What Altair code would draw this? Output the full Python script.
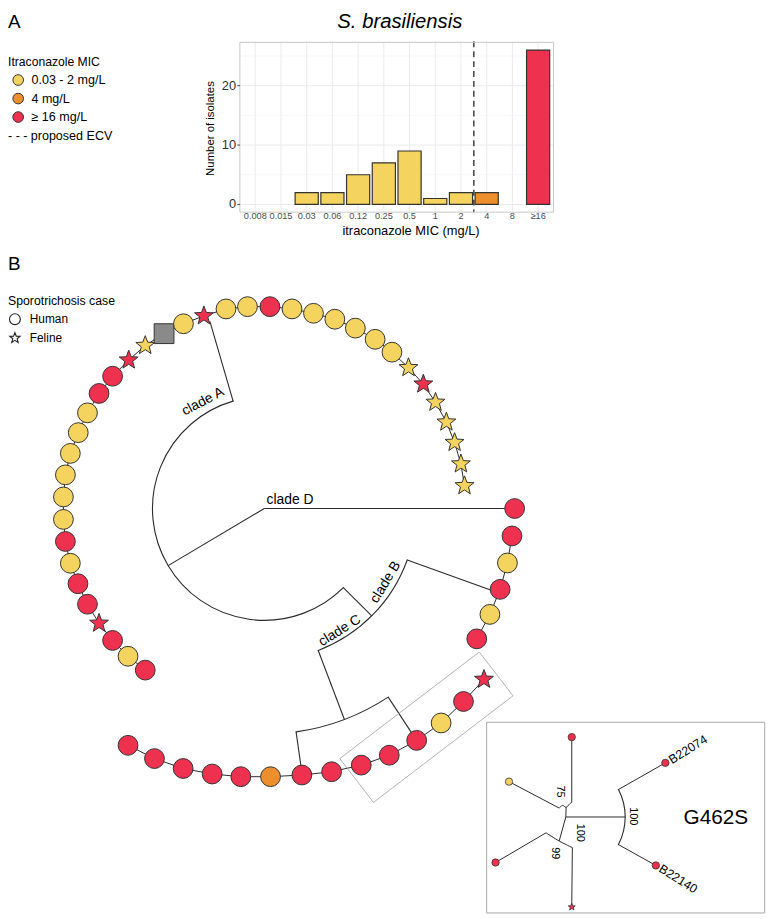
import altair as alt
import numpy as np
import pandas as pd

FONT = "Liberation Sans"
W, H = 766, 911
INK = "#2b2b2b"

# ---------------- Panel A : MIC distribution ----------------
mic_bins = ["0.008", "0.015", "0.03", "0.06", "0.12", "0.25", "0.5", "1", "2", "4", "8", "≥16"]
mic_counts = [0, 0, 2, 2, 5, 7, 9, 1, 2, 2, 0, 26]
mic_class = ["low"] * 9 + ["mid", "mid", "high"]
ecv_bin = ["4"]            # proposed ECV drawn at the lower edge of the 4 mg/L bin
y_major = [0, 10, 20]
y_minor = [5, 15, 25]

mic_domain = ["low", "mid", "high", "none"]
mic_colors = ["#F4D35E", "#EE8F2E", "#EF3150", "#8A8A8A"]
legend_mic_cls = ["low", "mid", "high"]
legend_mic_lab = ["0.03 - 2 mg/L", "4 mg/L", "≥ 16 mg/L"]

# ---------------- Panel B : circular tree (layout units) ----------------
cladeA_x = [-120.3, -137.7, -153.3, -167, -178.7, -188.3, -196, -201, -203, -203, -201, -196, -188,
            -178.7, -167, -153.3, -137, -120.3, -101.3, -81.7, -61, -38.7, -17, 5.7, 28, 49.7, 71.3,
            92, 112, 129, 145.7, 160.7, 173, 184, 192.3, 198.7, 202.3]
cladeA_y = [-163.3, -149.3, -133.3, -116, -96.7, -76, -55.3, -33.3, -11, 11.7, 34, 55.7, 76.7, 96.7,
            116.3, 133.7, 150, 164.7, 176.7, 186.7, 194.7, 201.7, 204, 204, 201.7, 197.3, 191.3,
            182.3, 171, 158, 142.3, 125.7, 107.3, 87.3, 66.7, 45, 23]
cladeA_mic = list("RYRRRRYRYYYYYYRRRYGYRYYRYYYYYYYRYYYYY")
cladeA_host = list("HHHFHHHHHHHHHHHHFFNHFHHHHHHHHHFFFFFFF")

cladeD_x, cladeD_y, cladeD_mic, cladeD_host = [253], [0], list("R"), list("H")

cladeB_x = [250.3, 245.7, 238.3, 228, 214.7]
cladeB_y = [-27.7, -55, -81.7, -107, -131.7]
cladeB_mic = list("RYRYR")
cladeB_host = list("HHHHH")

cladeC_x = [222, 201.3, 178.7, 154, 126.3, 98, 68, 38, 6.3, -23.7, -52.7, -82, -111, -137.7]
cladeC_y = [-172.7, -195, -216.7, -234.3, -249.3, -259.3, -266, -269.3, -271, -271, -268.3,
            -262.7, -252.7, -239.3]
cladeC_mic = list("RRYRRRRROR RRRR".replace(" ", ""))
cladeC_host = list("FHHHHHHHHHHHHH")

# internal branches: radial (math angle deg, r0, r1) and arcs (radius, from, to ccw)
br_angle = [0, 210.7, 106.2, -45, -19.8, -69.2, -81.9, -56.7]
br_r0 = [0, 0, 113, 113, 153.5, 153.5, 228, 228]
br_r1 = [253, 113, 197, 153.5, 252, 228, 272, 280]
arc_r = [113, 153.5, 228]
arc_from = [106.2, -69.2, -81.9]
arc_to = [315, -19.8, -56.7]

clade_lab = ["clade A", "clade D", "clade B", "clade C"]
clade_lab_x = [-62, 2.3, 122.5, 76.3]
clade_lab_y = [108, 8.3, -74.5, -123.5]
clade_lab_ang = [332, 0, 301, 328]
clade_lab_align = ["center", "left", "center", "center"]

# box around the G462S clade
gbox_x = [217.3, 251.3, 110.3, 76.3, 217.3]
gbox_y = [-145, -189.3, -297, -252.7, -145]

# ---------------- Inset tree (G462S) ----------------
ins_center = (304.7, -311.7)
ins_box = (224.7, 505.7, -216, -408.7)
ins_x = [310.7, 247.3, 233.7, 310.7, 405.3, 395.7]
ins_y = [-231, -276, -357.7, -402.7, -257, -360.7]
ins_mic = list("RYRRRR")
ins_host = list("HHHFHH")
ins_seg = [  # x1, y1, x2, y2
    (310.7, -231, 310.7, -297), (247.3, -276, 298, -302.7), (304.7, -311.7, 364.7, -311.7),
    (304.7, -311.7, 298, -336), (233.7, -357.7, 284.7, -327.7), (311.3, -342.7, 310.7, -402.7),
    (357.3, -284.3, 405.3, -257), (357.3, -339.3, 395.7, -360.7), (304.7, -311.7, 305, -302)]
ins_curve = {
    "c99": [(284.7, -327.7), (298, -336), (311.3, -342.7)],
    "c75": [(298, -302.7), (301.5, -300), (305, -302), (308.5, -298.5), (310.7, -297)],
}
ins_arc = (60, -27.5, 27.5)
ins_num = ["75", "100", "99", "100"]
ins_num_x = [299, 319, 293.7, 372.3]
ins_num_y = [-286, -327.7, -348.3, -311]
ins_tip_lab = ["B22074", "B22140"]
ins_tip_lab_x = [410, 400]
ins_tip_lab_y = [-255, -363]
ins_tip_lab_ang = [328, 32]

host_domain = ["Human", "Feline", "Unknown"]
host_legend = ["Human", "Feline"]

# ====================================================================
STAR = ("M0,-1L0.247,-0.34L0.951,-0.309L0.399,0.13L0.588,0.809L0,0.42L-0.588,0.809"
        "L-0.399,0.13L-0.951,-0.309L-0.247,-0.34Z")
code_mic = {"R": "high", "Y": "low", "O": "mid", "G": "none"}
code_host = {"H": "Human", "F": "Feline", "N": "Unknown"}

color_scale = alt.Scale(domain=mic_domain, range=mic_colors)
shape_scale = alt.Scale(domain=host_domain, range=["circle", STAR, "square"])

# ---------- histogram group ----------
X0, X1, YT, YB = 234.3, 551.3, 29.9, 201.5
xh = alt.Scale(domain=mic_bins, range=[X0, X1], paddingInner=0, paddingOuter=0.1)
yh = alt.Scale(domain=[-1.3, 27.3], range=[YB, YT], nice=False, zero=False)
hist = pd.DataFrame({"bin": mic_bins, "n": mic_counts, "cls": mic_class})
XH = alt.X("bin:N", scale=xh, axis=None)

vgrid = alt.Chart(hist).mark_rule(stroke="#ebebeb", strokeWidth=1).encode(
    x=XH, y=alt.value(YT), y2=alt.value(YB))
hminor = alt.Chart(pd.DataFrame({"v": y_minor})).mark_rule(stroke="#f3f3f3", strokeWidth=0.7).encode(
    y=alt.Y("v:Q", scale=yh, axis=None), x=alt.value(X0), x2=alt.value(X1))
hmajor = alt.Chart(pd.DataFrame({"v": y_major})).mark_rule(stroke="#ebebeb", strokeWidth=1).encode(
    y=alt.Y("v:Q", scale=yh, axis=None), x=alt.value(X0), x2=alt.value(X1))
bars = alt.Chart(hist).transform_filter("datum.n > 0").mark_bar(
    stroke="#333333", strokeWidth=1.2, width=alt.RelativeBandSize(0.9)).encode(
    x=XH, y=alt.Y("n:Q", scale=yh, axis=None), y2=alt.datum(0),
    fill=alt.Fill("cls:N", scale=color_scale, legend=None))
ecv = alt.Chart(pd.DataFrame({"bin": ecv_bin})).mark_rule(
    stroke="#333333", strokeWidth=1.4, strokeDash=[6, 4]).encode(
    x=alt.X("bin:N", scale=xh, axis=None, bandPosition=0), y=alt.value(YT - 1), y2=alt.value(YB))
frame = alt.Chart(pd.DataFrame({"k": [0]})).mark_rect(
    fillOpacity=0, stroke="#c8c8c8", strokeWidth=1).encode(
    x=alt.value(X0), x2=alt.value(X1), y=alt.value(YT), y2=alt.value(YB))
xlab = alt.Chart(hist).mark_text(fontSize=9.3, color="#4d4d4d", font=FONT, baseline="middle").encode(
    x=XH, y=alt.value(205.3), text="bin:N")
ylab = alt.Chart(pd.DataFrame({"v": y_major})).mark_text(
    align="right", baseline="middle", fontSize=13, color="#333333", font=FONT).encode(
    y=alt.Y("v:Q", scale=yh, axis=None), x=alt.value(230.5), text="v:Q")
ytick = alt.Chart(pd.DataFrame({"v": y_major})).mark_rule(stroke="#333333", strokeWidth=1).encode(
    y=alt.Y("v:Q", scale=yh, axis=None), x=alt.value(231.8), x2=alt.value(X0))


def label(txt, x, y, size, **kw):
    return alt.Chart(pd.DataFrame({"t": [txt]})).mark_text(
        fontSize=size, font=FONT, color="black", **kw).encode(
        x=alt.value(x), y=alt.value(y), text="t:N")


ytitle = label("Number of isolates", 204.7, 117, 11.5, angle=270, baseline="middle")
xtitle = label("itraconazole MIC (mg/L)", 407.3, 220.3, 13, baseline="middle")
title = label("S. brasiliensis", 396, 15, 20.5, fontStyle="italic", baseline="alphabetic")

hist_group = alt.layer(vgrid, hminor, hmajor, bars, ecv, frame, xlab, ylab, ytick,
                       ytitle, xtitle, title)

# ---------- tree group ----------
xt = alt.Scale(domain=[-259, 507], nice=False, zero=False)
yt = alt.Scale(domain=[-410, 501], nice=False, zero=False)


def PX(f):
    return alt.X(f, scale=xt, axis=None)


def PY(f):
    return alt.Y(f, scale=yt, axis=None)


tips = []
for name, xs, ys, ms, hs in [("A", cladeA_x, cladeA_y, cladeA_mic, cladeA_host),
                             ("D", cladeD_x, cladeD_y, cladeD_mic, cladeD_host),
                             ("B", cladeB_x, cladeB_y, cladeB_mic, cladeB_host),
                             ("C", cladeC_x, cladeC_y, cladeC_mic, cladeC_host)]:
    for i, (x, y, m, h) in enumerate(zip(xs, ys, ms, hs)):
        tips.append({"clade": name, "i": i, "x": x, "y": y,
                     "mic": code_mic[m], "host": code_host[h]})
tips = pd.DataFrame(tips)

a = np.radians(br_angle)
branches = pd.DataFrame({
    "x1": np.array(br_r0) * np.cos(a), "y1": np.array(br_r0) * np.sin(a),
    "x2": np.array(br_r1) * np.cos(a), "y2": np.array(br_r1) * np.sin(a)})


def arc_frame(cx, cy, rs, froms, tos):
    t1 = 90 - np.array(tos, dtype=float)
    t2 = 90 - np.array(froms, dtype=float)
    shift = np.where(t1 < 0, 360, 0)
    return pd.DataFrame({"cx": cx, "cy": cy, "r": rs, "r2": np.array(rs) - 0.01,
                         "t1": np.radians(t1 + shift), "t2": np.radians(t2 + shift)})


arcs = pd.concat([arc_frame([0.0] * 3, [0.0] * 3, arc_r, arc_from, arc_to),
                  arc_frame([ins_center[0]], [ins_center[1]], [ins_arc[0]], [ins_arc[1]],
                            [ins_arc[2]])], ignore_index=True)

rules = alt.Chart(branches).mark_rule(stroke=INK, strokeWidth=1.1).encode(
    x=PX("x1:Q"), y=PY("y1:Q"), x2="x2:Q", y2="y2:Q")
arcs_l = alt.Chart(arcs).mark_arc(fillOpacity=0, stroke=INK, strokeWidth=1.1).encode(
    x=PX("cx:Q"), y=PY("cy:Q"),
    theta=alt.Theta("t1:Q", scale=None), theta2="t2:Q",
    radius=alt.Radius("r:Q", scale=None), radius2="r2:Q")
chains = alt.Chart(tips[tips.clade != "D"]).mark_line(stroke=INK, strokeWidth=1).encode(
    x=PX("x:Q"), y=PY("y:Q"), detail="clade:N", order="i:Q")
gbox = alt.Chart(pd.DataFrame({"x": gbox_x, "y": gbox_y, "i": range(len(gbox_x))})).mark_line(
    stroke="#9e9e9e", strokeWidth=0.8).encode(x=PX("x:Q"), y=PY("y:Q"), order="i:Q")
ibox = alt.Chart(pd.DataFrame({"x1": [ins_box[0]], "x2": [ins_box[1]], "y1": [ins_box[2]],
                               "y2": [ins_box[3]]})).mark_rect(
    fillOpacity=0, stroke="#a8a8a8", strokeWidth=1).encode(
    x=PX("x1:Q"), x2="x2:Q", y=PY("y1:Q"), y2="y2:Q")
iseg = alt.Chart(pd.DataFrame(ins_seg, columns=["x1", "y1", "x2", "y2"])).mark_rule(
    stroke=INK, strokeWidth=1).encode(x=PX("x1:Q"), y=PY("y1:Q"), x2="x2:Q", y2="y2:Q")
icurve = alt.Chart(pd.DataFrame([{"c": k, "i": j, "x": p[0], "y": p[1]}
                                 for k, pts in ins_curve.items() for j, p in enumerate(pts)])
                   ).mark_line(stroke=INK, strokeWidth=1, interpolate="cardinal").encode(
    x=PX("x:Q"), y=PY("y:Q"), detail="c:N", order="i:Q")

tip_pts = alt.Chart(tips).mark_point(
    filled=True, size=400, stroke="#333333", strokeWidth=1, opacity=1, fillOpacity=1).encode(
    x=PX("x:Q"), y=PY("y:Q"),
    fill=alt.Fill("mic:N", scale=color_scale, legend=None),
    shape=alt.Shape("host:N", scale=shape_scale, legend=None))
ins_tips = pd.DataFrame({"x": ins_x, "y": ins_y, "mic": [code_mic[m] for m in ins_mic],
                         "host": [code_host[h] for h in ins_host]})
ins_pts = alt.Chart(ins_tips).mark_point(
    filled=True, size=55, stroke="#333333", strokeWidth=0.8, opacity=1, fillOpacity=1).encode(
    x=PX("x:Q"), y=PY("y:Q"),
    fill=alt.Fill("mic:N", scale=color_scale, legend=None),
    shape=alt.Shape("host:N", scale=shape_scale, legend=None))

clade_df = pd.DataFrame({"t": clade_lab, "x": clade_lab_x, "y": clade_lab_y,
                         "ang": clade_lab_ang, "al": clade_lab_align})
clade_c = alt.Chart(clade_df[clade_df.al == "center"]).mark_text(
    fontSize=14, font=FONT, color="black", baseline="middle", align="center").encode(
    x=PX("x:Q"), y=PY("y:Q"), text="t:N", angle=alt.Angle("ang:Q", scale=None))
clade_l = alt.Chart(clade_df[clade_df.al == "left"]).mark_text(
    fontSize=14, font=FONT, color="black", baseline="middle", align="left").encode(
    x=PX("x:Q"), y=PY("y:Q"), text="t:N", angle=alt.Angle("ang:Q", scale=None))
inum = alt.Chart(pd.DataFrame({"t": ins_num, "x": ins_num_x, "y": ins_num_y})).mark_text(
    fontSize=11, font=FONT, color="black", baseline="middle", angle=90).encode(
    x=PX("x:Q"), y=PY("y:Q"), text="t:N")
itiplab = alt.Chart(pd.DataFrame({"t": ins_tip_lab, "x": ins_tip_lab_x, "y": ins_tip_lab_y,
                                  "ang": ins_tip_lab_ang})).mark_text(
    fontSize=12.5, font=FONT, color="black", baseline="middle", align="left").encode(
    x=PX("x:Q"), y=PY("y:Q"), text="t:N", angle=alt.Angle("ang:Q", scale=None))
g462 = alt.Chart(pd.DataFrame({"t": ["G462S"], "x": [456.3], "y": [-312.7]})).mark_text(
    fontSize=21, font=FONT, color="black", baseline="middle").encode(
    x=PX("x:Q"), y=PY("y:Q"), text="t:N")

# ---------- legends & panel letters (pixel placement) ----------
letterA = label("A", 0, 15, 19, align="left", baseline="alphabetic")
letterB = label("B", 0, 260, 19, align="left", baseline="alphabetic")
legA_title = label("Itraconazole MIC", 0, 49.3, 12.3, align="left", baseline="middle")
legA_df = pd.DataFrame({"cls": legend_mic_cls, "lab": legend_mic_lab, "k": range(3)})
legA_pts = alt.Chart(legA_df).transform_calculate(py="68 + datum.k * 18.7").mark_point(
    filled=True, size=115, shape="circle", stroke="#333333", strokeWidth=1, opacity=1).encode(
    x=alt.value(10.3), y=alt.Y("py:Q", scale=None),
    fill=alt.Fill("cls:N", scale=color_scale, legend=None))
legA_txt = alt.Chart(legA_df).transform_calculate(py="68 + datum.k * 18.7").mark_text(
    fontSize=12.7, font=FONT, color="black", align="left", baseline="middle").encode(
    x=alt.value(23.7), y=alt.Y("py:Q", scale=None), text="lab:N")
legA_dash = label("- - -", 0, 124.3, 12.7, align="left", baseline="middle")
legA_ecv = label("proposed ECV", 23, 124.3, 12.7, align="left", baseline="middle")

legB_title = label("Sporotrichosis case", 0, 291.3, 12.4, align="left", baseline="middle")
legB_df = pd.DataFrame({"host": host_legend, "k": range(2)})
legB_pts = alt.Chart(legB_df).transform_calculate(py="309.7 + datum.k * 19").mark_point(
    filled=True, size=120, fill="white", stroke="#222222", strokeWidth=1.1, opacity=1).encode(
    x=alt.value(7), y=alt.Y("py:Q", scale=None),
    shape=alt.Shape("host:N", scale=shape_scale, legend=None))
legB_txt = alt.Chart(legB_df).transform_calculate(py="309.7 + datum.k * 19").mark_text(
    fontSize=12, font=FONT, color="black", align="left", baseline="middle").encode(
    x=alt.value(22), y=alt.Y("py:Q", scale=None), text="host:N")

tree_group = alt.layer(rules, arcs_l, chains, gbox, ibox, iseg, icurve, tip_pts, ins_pts,
                       clade_c, clade_l, inum, itiplab, g462,
                       letterA, letterB, legA_title, legA_pts, legA_txt, legA_dash, legA_ecv,
                       legB_title, legB_pts, legB_txt)

chart = alt.layer(hist_group, tree_group).resolve_scale(
    x="independent", y="independent").properties(
    width=W, height=H, padding=0, autosize="none").configure(
    background="white").configure_view(stroke=None)

chart.save("out.html", embed_options={"renderer": "svg", "actions": False})
